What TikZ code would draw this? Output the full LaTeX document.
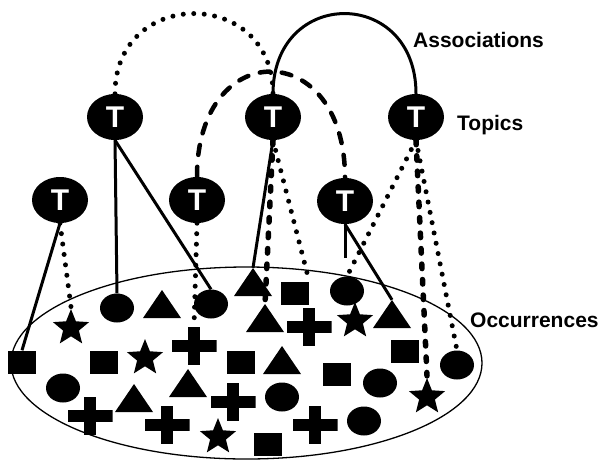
\documentclass[tikz,border=0pt]{standalone}
\usepackage{fontspec}
\setmainfont{Liberation Sans}
\usetikzlibrary{shapes.geometric}

\begin{document}
\begin{tikzpicture}[x=1pt, y=-1pt,
  topic/.style={ellipse, fill=black, inner sep=0pt, minimum width=56pt, minimum height=46pt,
    text=white, font=\fontsize{30}{32}\selectfont\bfseries},
  lbl/.style={anchor=base west, inner sep=0pt, font=\fontsize{21}{25}\selectfont\bfseries},
  pool/.style={draw, ellipse, line width=1.3pt, inner sep=0pt},
  occcirc/.style={ellipse, fill=black, inner sep=0pt, minimum width=34pt, minimum height=29pt},
  occsq/.style={rectangle, fill=black, inner sep=0pt, minimum width=28pt, minimum height=23pt},
  occtri/.style={rectangle, inner sep=0pt, minimum width=38pt, minimum height=28pt,
    path picture={\fill (path picture bounding box.south west) -- (path picture bounding box.south east)
      -- (path picture bounding box.north) -- cycle;}},
  occstar/.style={rectangle, inner sep=0pt, minimum width=46pt, minimum height=38pt,
    path picture={\fill[shift={(path picture bounding box.center)}, yshift=-1.8pt, xscale=1.15]
      (90:19pt) -- (126:8.3pt) -- (162:19pt) -- (198:8.3pt) -- (234:19pt) -- (270:8.3pt)
      -- (306:19pt) -- (342:8.3pt) -- (18:19pt) -- (54:8.3pt) -- cycle;}},
  occplus/.style={rectangle, inner sep=0pt, minimum width=45pt, minimum height=38pt,
    path picture={
      \fill ([yshift=-6pt]path picture bounding box.west) rectangle ([yshift=6pt]path picture bounding box.east);
      \fill ([xshift=-6pt]path picture bounding box.south) rectangle ([xshift=6pt]path picture bounding box.north);}},
  solidlink/.style={line width=3pt},
  dotlink/.style={line width=5pt, line cap=round, dash pattern=on 0pt off 10.5pt},
  occlink/.style={line width=5.5pt, line cap=round, dash pattern=on 4.5pt off 11pt},
  assoclink/.style={line width=4.5pt, line cap=round, dash pattern=on 10pt off 12pt},
]
\useasboundingbox (0,0) rectangle (601,461);

% the pool of occurrences
\node[pool, minimum width=471pt, minimum height=192pt] (pool) at (246.5,363) {};

% circles
\node[occcirc] (c1) at (117,308) {};
\node[occcirc] (c2) at (211,304) {};
\node[occcirc] (c3) at (347,291) {};
\node[occcirc] (c4) at (63,388) {};
\node[occcirc] (c5) at (282,397) {};
\node[occcirc] (c6) at (380,383) {};
\node[occcirc] (c7) at (364,421) {};
\node[occcirc] (c8) at (457,365) {};
% triangles
\node[occtri] (tr1) at (162,304) {};
\node[occtri] (tr2) at (253,282) {};
\node[occtri] (tr3) at (265,318) {};
\node[occtri] (tr4) at (392,314) {};
\node[occtri] (tr5) at (282,360) {};
\node[occtri] (tr6) at (134,398) {};
\node[occtri] (tr7) at (188,383) {};
% squares
\node[occsq] (sq1) at (22,362) {};
\node[occsq] (sq2) at (104,362) {};
\node[occsq] (sq3) at (241,362) {};
\node[occsq] (sq4) at (295,293) {};
\node[occsq] (sq5) at (405,351) {};
\node[occsq] (sq6) at (337,374) {};
\node[occsq] (sq7) at (268,444) {};
% stars
\node[occstar] (st1) at (71,328) {};
\node[occstar] (st2) at (145,358) {};
\node[occstar] (st3) at (355,321) {};
\node[occstar] (st4) at (427,397) {};
\node[occstar] (st5) at (218,437) {};
% crosses
\node[occplus] (pl1) at (194,346) {};
\node[occplus] (pl2) at (309,327) {};
\node[occplus] (pl3) at (90,416) {};
\node[occplus] (pl4) at (233,402) {};
\node[occplus] (pl5) at (167,425) {};
\node[occplus] (pl6) at (315,425) {};

% topics
\node[topic] (t1) at (115,117) {T};
\node[topic] (t2) at (273,117) {T};
\node[topic] (t3) at (416,117) {T};
\node[topic] (t4) at (60,200) {T};
\node[topic] (t5) at (197,200) {T};
\node[topic] (t6) at (345,201) {T};

\coordinate (stub) at (345,258);

% associations between topics
\draw[dotlink] (t1.north) .. controls +(0,-107) and +(0,-107) .. (t2.north);
\draw[assoclink] (t5.north) .. controls +(0,-141) and +(0,-141) .. (t6.north);
\draw[solidlink] (t2.north) .. controls +(0,-107) and +(0,-107) .. (t3.north);

% occurrence links
\draw[solidlink] (t1.south) -- (c1.north);
\draw[solidlink] (t1.south) -- (c2.north);
\draw[solidlink] (t4.south) -- (sq1.north);
\draw[dotlink] (t4.south) -- ([yshift=2pt]st1.north);
\draw[dotlink] (t5.south) -- (pl1.north);
\draw[solidlink] (t2.south) -- (tr2.north);
\draw[occlink] (t2.south) -- (tr3.north);
\draw[dotlink] (t2.south) -- (sq4.north east);
\draw[occlink] (t3.south) -- ([yshift=2pt]st4.north);
\draw[dotlink] (t3.south) -- (c8.north);
\draw[dotlink] (t3.south) -- (c3.north);
\draw[solidlink] (t6.south) -- (stub);
\draw[solidlink] (t6.south) -- (tr4.north);

% legend words
\node[lbl] (la) at (413,47) {Associations};
\node[lbl] (lt) at (457,130) {Topics};
\node[lbl] (lo) at (470,327) {Occurrences};
\end{tikzpicture}
\end{document}
